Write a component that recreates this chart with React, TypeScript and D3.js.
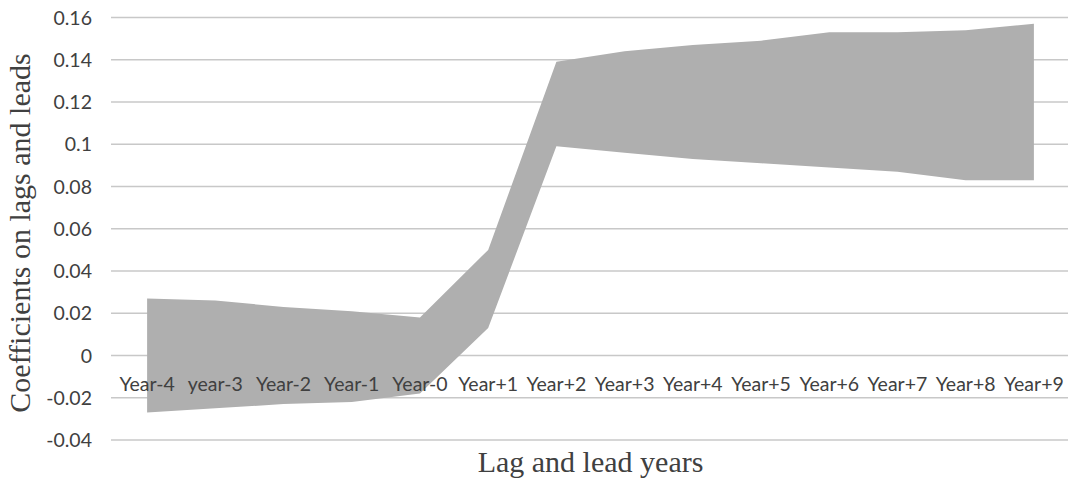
import React from "react";
import * as d3 from "d3";

// Lag/lead categories and the confidence band for each coefficient
const categories = [
  "Year-4", "year-3", "Year-2", "Year-1", "Year-0", "Year+1", "Year+2",
  "Year+3", "Year+4", "Year+5", "Year+6", "Year+7", "Year+8", "Year+9",
];
const upperBound = [0.027, 0.026, 0.023, 0.021, 0.018, 0.050, 0.139, 0.144, 0.147, 0.149, 0.153, 0.153, 0.154, 0.157];
const lowerBound = [-0.027, -0.025, -0.023, -0.022, -0.018, 0.013, 0.099, 0.096, 0.093, 0.091, 0.089, 0.087, 0.083, 0.083];
const yTicks = [0.16, 0.14, 0.12, 0.1, 0.08, 0.06, 0.04, 0.02, 0, -0.02, -0.04];

const W = 1068;
const H = 478;
const plot = { left: 113, right: 1068, top: 17.5, bottom: 440 };

const tickFont = "Lato, 'Open Sans', sans-serif";
const titleFont = "'Liberation Serif', 'Times New Roman', serif";

export default function App() {
  const x = d3.scaleBand<string>().domain(categories).range([plot.left, plot.right]).padding(0);
  const cx = (c: string) => (x(c) as number) + x.bandwidth() / 2;
  const y = d3.scaleLinear().domain([-0.04, 0.16]).range([plot.bottom, plot.top]);

  const rows = categories.map((c, i) => ({ c, lo: lowerBound[i], hi: upperBound[i] }));
  const band = d3
    .area<{ c: string; lo: number; hi: number }>()
    .x((d) => cx(d.c))
    .y0((d) => y(d.lo))
    .y1((d) => y(d.hi));

  const fmt = (v: number) => String(+v.toFixed(2));

  return (
    <svg
      width={W}
      height={H}
      style={{ position: "absolute", left: 0, top: 0, background: "#ffffff" }}
    >
      {/* horizontal gridlines */}
      <g>
        {yTicks.map((t) => (
          <line
            key={t}
            x1={plot.left - 2}
            x2={plot.right}
            y1={y(t)}
            y2={y(t)}
            stroke="#c8c8c8"
            strokeWidth={1.6}
          />
        ))}
      </g>

      {/* band between lower and upper bounds */}
      <path d={band(rows) || ""} fill="#afafaf" />

      {/* y tick labels */}
      <g fontFamily={tickFont} fontSize={19.5} fill="#404040">
        {yTicks.map((t) => (
          <text key={t} x={92} y={y(t)} dy="0.36em" textAnchor="end">
            {fmt(t)}
          </text>
        ))}
      </g>

      {/* category labels, placed at the zero line */}
      <g fontFamily={tickFont} fontSize={19.5} fill="#404040">
        {categories.map((c) => (
          <text key={c} x={cx(c)} y={391} textAnchor="middle">
            {c}
          </text>
        ))}
      </g>

      {/* axis titles */}
      <text
        x={(plot.left + plot.right) / 2}
        y={472}
        textAnchor="middle"
        fontFamily={titleFont}
        fontSize={30}
        fill="#404040"
      >
        Lag and lead years
      </text>
      <text
        transform={`translate(30, ${233}) rotate(-90)`}
        textAnchor="middle"
        fontFamily={titleFont}
        fontSize={30}
        fill="#404040"
      >
        Coefficients on lags and leads
      </text>
    </svg>
  );
}
